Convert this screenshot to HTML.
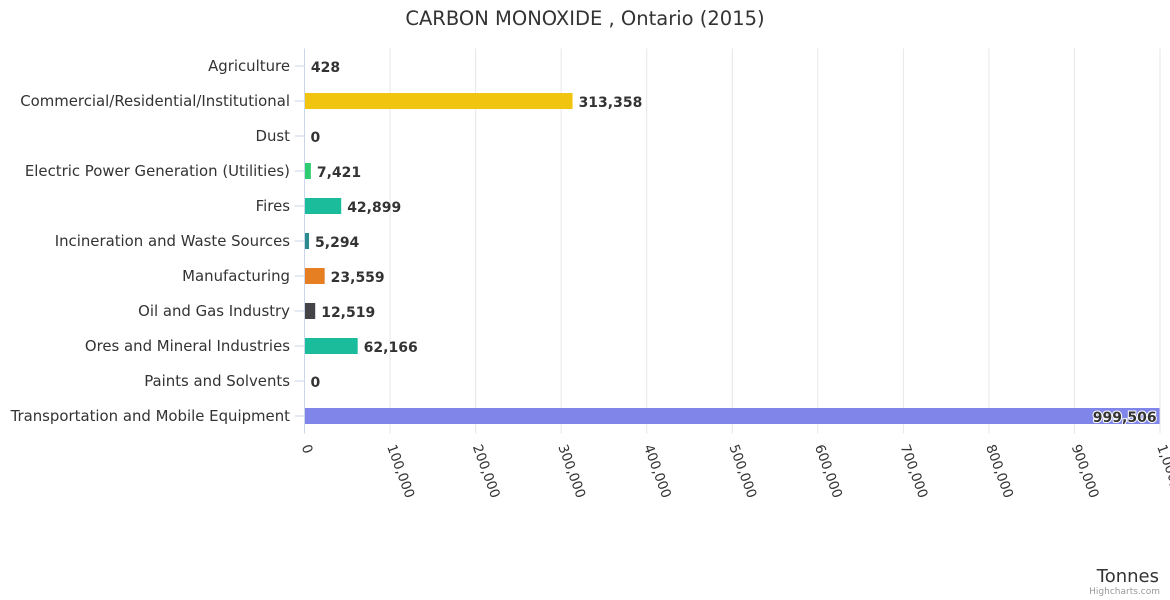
<!DOCTYPE html>
<html><head><meta charset="utf-8"><style>
body{margin:0;background:#fff;}
svg{font-family:"DejaVu Sans","Liberation Sans",sans-serif;display:block}
</style></head><body>
<svg id="c" width="1170" height="600">
<text x="585" y="25" text-anchor="middle" font-size="19.5" fill="#333">CARBON MONOXIDE , Ontario (2015)</text>
<text x="1159" y="582" text-anchor="end" font-size="18" fill="#333">Tonnes</text>
<text x="1160" y="594" text-anchor="end" font-size="9" fill="#999">Highcharts.com</text>
<g id="grid"></g><g id="bars"></g><g id="labels"></g>
</svg>
<script>
const categories=["Agriculture","Commercial/Residential/Institutional","Dust","Electric Power Generation (Utilities)","Fires","Incineration and Waste Sources","Manufacturing","Oil and Gas Industry","Ores and Mineral Industries","Paints and Solvents","Transportation and Mobile Equipment"];
const values=[428,313358,0,7421,42899,5294,23559,12519,62166,0,999506];
const colors=["#7cb5ec","#f1c40f","#2ecc71","#2ecc71","#1abc9c","#2a8c8f","#e67e22","#434348","#1abc9c","#7cb5ec","#8085e9"];
const ticks=[0,100000,200000,300000,400000,500000,600000,700000,800000,900000,1000000];
const tickLabels=["0","100,000","200,000","300,000","400,000","500,000","600,000","700,000","800,000","900,000","1,000,000"];
const NS="http://www.w3.org/2000/svg";
const plotX0=304.5,plotX1=1160,plotTop=48.5,rowH=35;
const xs=v=>plotX0+(plotX1-plotX0)*v/1000000;
const yc=i=>plotTop+rowH*i+rowH/2;
function mk(t,a,p){const e=document.createElementNS(NS,t);for(const k in a)e.setAttribute(k,a[k]);p.appendChild(e);return e;}
const gG=document.getElementById('grid'),gB=document.getElementById('bars'),gL=document.getElementById('labels');
const plotBottom=plotTop+rowH*categories.length;
ticks.forEach((t,i)=>{
 const x=xs(t);
 const ln=mk('line',{x1:x,x2:x,y1:plotTop,y2:plotBottom,stroke:i==0?'#ccd6eb':'#e6e6e6','stroke-width':1},gG);
 
 
 const tx=mk('text',{x:x-3,y:plotBottom+13,'font-size':13.5,fill:'#333',transform:`rotate(70 ${x-3} ${plotBottom+13})`},gL);
 tx.textContent=tickLabels[i];
 
 
});
categories.forEach((c,i)=>{
 const y=yc(i);
 mk('line',{x1:plotX0-10,x2:plotX0,y1:y,y2:y,stroke:'#ccd6eb'},gG);
 const ct=mk('text',{x:290,y:y+5,'text-anchor':'end','font-size':14.9,fill:'#333'},gL);
 ct.textContent=c;
 
 
 const w=xs(values[i])-plotX0;
 const r=mk('rect',{x:plotX0+0.5,y:y-8,width:Math.max(0,w-0.5),height:16,fill:colors[i]},gB);
 
 
 const txt=values[i].toLocaleString('en-US');
 const inside=w>800;
 const vt=mk('text',{x:inside?xs(values[i])-3:xs(values[i])+6,y:y+6,'text-anchor':inside?'end':'start','font-size':14,'font-weight':'bold',fill:'#333',stroke:'#fff','stroke-width':inside?2:0,'paint-order':'stroke'},gL);
 vt.textContent=txt;
 
 
});
</script>
</body></html>
